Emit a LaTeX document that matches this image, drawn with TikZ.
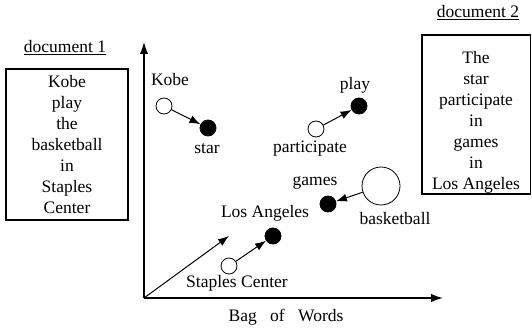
\documentclass[tikz,border=0pt]{standalone}
\usepackage{fontspec}
\setmainfont{Liberation Serif}
\usetikzlibrary{arrows.meta}
\begin{document}
\begin{tikzpicture}[x=1pt,y=-1pt,
  txt/.style={font=\fontsize{17.5}{21}\selectfont, inner sep=0pt},
  boxtxt/.style={txt, align=center},
  docbox/.style={draw, line width=1.2pt},
  openc/.style={circle, draw, fill=white, line width=0.8pt, minimum size=16pt, inner sep=0pt},
  fillc/.style={circle, draw, fill=black, line width=0.8pt, minimum size=16pt, inner sep=0pt},
  bigc/.style={circle, draw, fill=white, line width=0.8pt, minimum size=38pt, inner sep=0pt},
  vec/.style={line width=1pt, -{Latex[length=11pt,width=8pt]}},
  axis/.style={line width=1.5pt, -{Latex[length=12pt,width=8.5pt]}}]
\useasboundingbox (0,0) rectangle (532,328);
% documents
\node[txt] (d1) at (65,48) {\underline{document 1}};
\draw[docbox] (6,69) rectangle (128,220);
\node[boxtxt] (t1) at (67,145) {Kobe\\play\\the\\basketball\\in\\Staples\\Center};
\node[txt] (d2) at (478,13) {\underline{document 2}};
\draw[docbox] (422,35) rectangle (530.5,194);
\node[boxtxt] (t2) at (476,122) {The\\star\\participate\\in\\games\\in\\Los Angeles};
% axes
\coordinate (o) at (144,298);
\coordinate (yt) at (144,42);
\coordinate (xt) at (443,298);
\draw[axis] (o) -- (yt);
\draw[axis] (o) -- (xt);
\node[txt] (bow) at (286,317) {Bag\hspace{9pt} of\hspace{9pt} Words};
% words
\node[openc] (kobe) at (164,106) {};
\node[fillc] (star) at (208,128) {};
\node[openc] (part) at (316,129) {};
\node[fillc] (play) at (359,106) {};
\node[fillc] (games) at (328,204) {};
\node[bigc] (bball) at (381,186) {};
\node[fillc] (la) at (273,236) {};
\node[openc] (stap) at (229,266) {};
\node[txt] (lkobe) at (170,80) {Kobe};
\node[txt] (lstar) at (207,149) {star};
\node[txt] (lpart) at (310,149) {participate};
\node[txt] (lplay) at (355,85) {play};
\node[txt] (lgames) at (315,183) {games};
\node[txt] (lbball) at (395,219) {basketball};
\node[txt] (lla) at (265,213) {Los Angeles};
\node[txt] (lstap) at (237,283) {Staples Center};
% vectors
\coordinate (vt) at (229,236);
\draw[vec] (o) -- (vt);
\draw[vec] (kobe) -- (star);
\draw[vec] (part) -- (play);
\draw[vec] (bball) -- (games);
\draw[vec] (stap) -- (la);
\end{tikzpicture}
\end{document}
